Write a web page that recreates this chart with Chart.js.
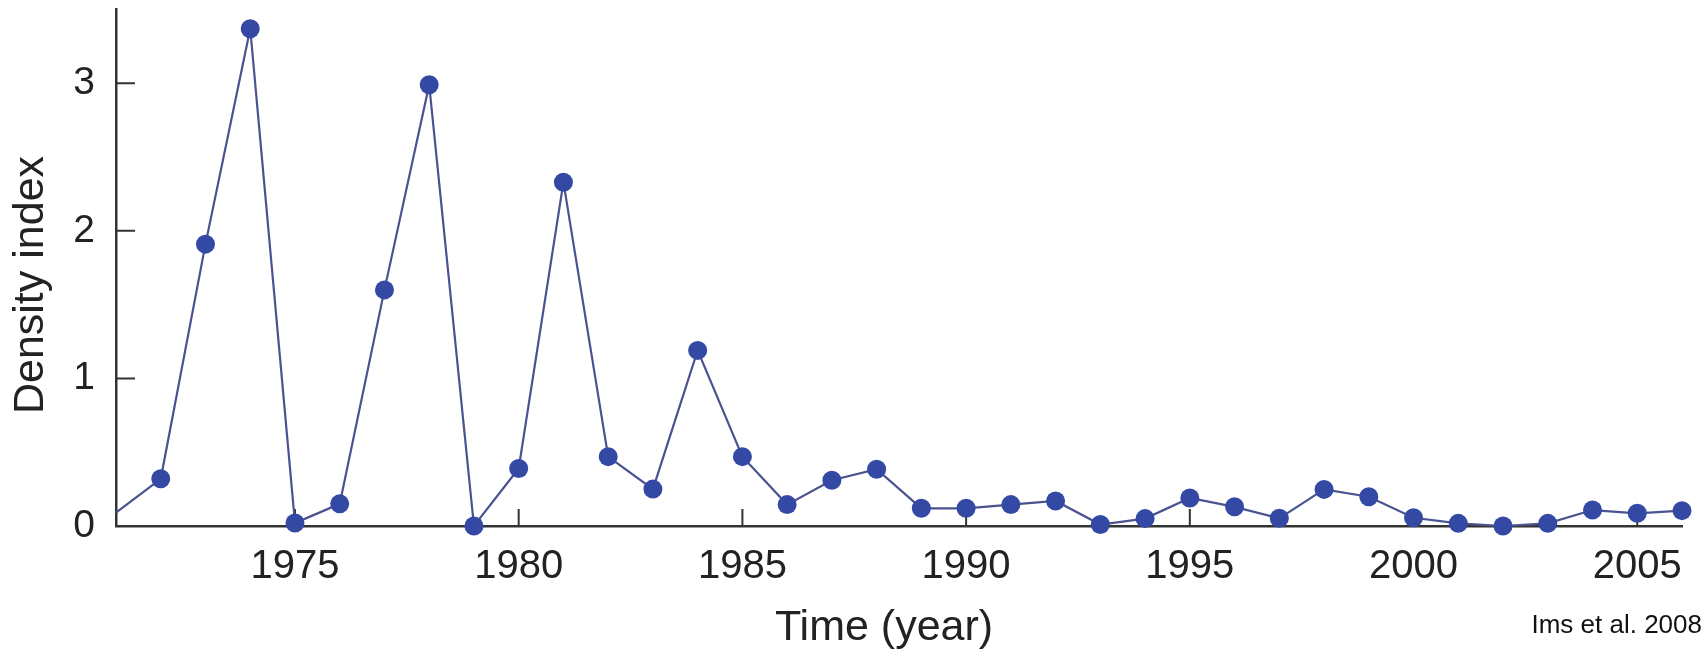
<!DOCTYPE html>
<html>
<head>
<meta charset="utf-8">
<script src="https://cdn.jsdelivr.net/npm/chart.js@4.4.1/dist/chart.umd.min.js"></script>
<style>
  html, body { margin: 0; padding: 0; background: #fff; }
  #wrap { position: relative; width: 1703px; height: 653px; }
  #credit {
    position: absolute; right: 1px; top: 609px;
    font: 26px "Liberation Sans", Arial, sans-serif; color: #111;
    line-height: 30px; white-space: nowrap;
  }
</style>
</head>
<body>
<div id="wrap">
  <canvas id="chart" width="1703" height="653"></canvas>
  <div id="credit">Ims et al. 2008</div>
</div>
<script>
// --- Data ---
const years = [1971, 1972, 1973, 1974, 1975, 1976, 1977, 1978, 1979, 1980,
  1981, 1982, 1983, 1984, 1985, 1986, 1987, 1988, 1989, 1990,
  1991, 1992, 1993, 1994, 1995, 1996, 1997, 1998, 1999, 2000,
  2001, 2002, 2003, 2004, 2005, 2006];
const density = [0.09, 0.32, 1.91, 3.37, 0.02, 0.15, 1.60, 2.99, 0.0, 0.39,
  2.33, 0.47, 0.25, 1.19, 0.47, 0.145, 0.31, 0.385, 0.12, 0.12,
  0.145, 0.17, 0.01, 0.05, 0.19, 0.13, 0.052, 0.248, 0.198, 0.056,
  0.018, 0.0, 0.018, 0.108, 0.086, 0.104];
const xTicks = [1975, 1980, 1985, 1990, 1995, 2000, 2005];
const yTicks = [0, 1, 2, 3];

const axisColor = "#333";
const textColor = "#222";
const fontFamily = '"Liberation Sans", Arial, Helvetica, sans-serif';

// ticks drawn inward, under the points
const inwardTicks = {
  id: 'inwardTicks',
  beforeDatasetsDraw(chart) {
    const { ctx, chartArea, scales: { x, y } } = chart;
    ctx.save();
    ctx.strokeStyle = axisColor;
    ctx.lineWidth = 2;
    ctx.beginPath();
    xTicks.forEach(v => {
      const px = x.getPixelForValue(v);
      ctx.moveTo(px, chartArea.bottom);
      ctx.lineTo(px, chartArea.bottom - 17);
    });
    yTicks.slice(1).forEach(v => {
      const py = y.getPixelForValue(v);
      ctx.moveTo(chartArea.left, py);
      ctx.lineTo(chartArea.left + 19, py);
    });
    ctx.stroke();
    ctx.restore();
  }
};

const axisTitles = {
  id: 'axisTitles',
  afterDraw(chart) {
    const { ctx } = chart;
    ctx.save();
    ctx.fillStyle = textColor;
    ctx.font = `43px ${fontFamily}`;
    ctx.textAlign = 'center';
    ctx.textBaseline = 'middle';
    ctx.fillText('Time (year)', 884, 628);
    ctx.translate(31, 285);
    ctx.rotate(-Math.PI / 2);
    ctx.fillText('Density index', 0, 0);
    ctx.restore();
  }
};

const noEdgePadding = s => {
  s.paddingTop = 0; s.paddingBottom = 0;
  s.paddingLeft = 0; s.paddingRight = 0;
};

const ctx = document.getElementById("chart").getContext("2d");
new Chart(ctx, {
  type: "line",
  data: {
    datasets: [{
      data: years.map((yr, i) => ({ x: yr, y: density[i] })),
      borderColor: "#4a5390",
      borderWidth: 2.2,
      pointBackgroundColor: "#3449a3",
      pointBorderWidth: 0,
      pointRadius: c => (c.dataIndex === 0 ? 0 : 9.5),
      tension: 0,
      clip: false
    }]
  },
  options: {
    responsive: false,
    animation: false,
    devicePixelRatio: 1,
    layout: { padding: { top: 8, right: 21, left: 0, bottom: 0 } },
    plugins: {
      legend: { display: false },
      tooltip: { enabled: false }
    },
    scales: {
      x: {
        type: "linear",
        min: 1971,
        max: 2006,
        afterBuildTicks: s => { s.ticks = xTicks.map(v => ({ value: v })); },
        afterFit: s => { s.height = 127; noEdgePadding(s); },
        grid: { display: false, drawTicks: false },
        border: { display: true, color: axisColor, width: 2.5 },
        ticks: {
          color: textColor,
          font: { family: fontFamily, size: 40 },
          padding: 17,
          maxRotation: 0,
          autoSkip: false,
          callback: v => String(v)
        }
      },
      y: {
        min: 0,
        max: 3.5,
        afterBuildTicks: s => { s.ticks = yTicks.map(v => ({ value: v })); },
        afterFit: s => { s.width = 116; noEdgePadding(s); },
        grid: { display: false, drawTicks: false },
        border: { display: true, color: axisColor, width: 2.5 },
        ticks: {
          color: textColor,
          font: { family: fontFamily, size: 39 },
          padding: 21,
          callback: v => String(v)
        }
      }
    }
  },
  plugins: [inwardTicks, axisTitles]
});
</script>
</body>
</html>
